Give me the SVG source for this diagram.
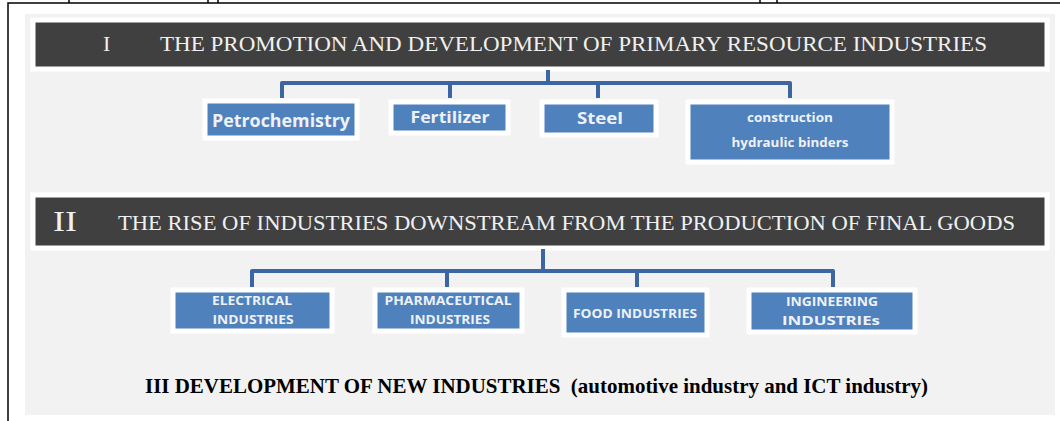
<svg xmlns="http://www.w3.org/2000/svg" width="1060" height="421" viewBox="0 0 1060 421">
<style>
.frame{stroke:#000;stroke-width:1.5;fill:none}
.band{fill:#404040;stroke:#fff;stroke-width:5}
.bt{font-family:"Liberation Serif",serif;fill:#f0f0f0}
.box{fill:#4f81bd;stroke:#fff;stroke-width:5}
.lb{font-family:"Open Sans","Liberation Sans",sans-serif;font-weight:bold;fill:#eef2f8;text-anchor:middle}
.con{stroke:#3b65a3;stroke-width:4;fill:none;stroke-linejoin:round}
</style>
<rect width="1060" height="421" fill="#fff"/>
<g id="frame">
<path class="frame" d="M8,421 V3 H1060"/>
<path class="frame" d="M69,0 V3 M208,0 V3 M218,0 V3 M760,0 V3 M777,0 V3"/>
</g>
<rect id="panel" x="25" y="14" width="1030" height="401" fill="#f2f2f2"/>
<g id="band1">
<rect class="band" x="33" y="20" width="1014" height="49"/>
<text class="bt" x="103" y="51" font-size="22">I</text>
<text class="bt" x="160" y="51" font-size="22" textLength="827" lengthAdjust="spacingAndGlyphs">THE PROMOTION AND DEVELOPMENT OF PRIMARY RESOURCE INDUSTRIES</text>
</g>
<g id="band2">
<rect class="band" x="33" y="195" width="1014" height="53"/>
<text class="bt" x="53" y="231" font-size="29" textLength="24" lengthAdjust="spacingAndGlyphs">II</text>
<text class="bt" x="118" y="230" font-size="21" textLength="897" lengthAdjust="spacingAndGlyphs">THE RISE OF INDUSTRIES DOWNSTREAM FROM THE PRODUCTION OF FINAL GOODS</text>
</g>
<g id="connectors">
<path class="con" d="M548,70 V83 M282,98 V83 H790 V98 M450,83 V98 M598,83 V98"/>
<path class="con" d="M543,249 V271 M252,287 V271 H833 V287 M447,271 V287 M637,271 V287"/>
</g>
<g id="petrochemistry">
<rect class="box" x="205" y="101" width="152" height="37"/>
<text class="lb" x="281" y="127" font-size="17.5" textLength="138" lengthAdjust="spacingAndGlyphs">Petrochemistry</text>
</g>
<g id="fertilizer">
<rect class="box" x="391" y="102" width="117" height="31"/>
<text class="lb" x="450" y="123" font-size="16.5" textLength="79" lengthAdjust="spacingAndGlyphs">Fertilizer</text>
</g>
<g id="steel">
<rect class="box" x="542" y="102" width="114" height="33"/>
<text class="lb" x="600" y="124" font-size="16.5" textLength="46" lengthAdjust="spacingAndGlyphs">Steel</text>
</g>
<g id="construction">
<rect class="box" x="688" y="102" width="204" height="60"/>
<text class="lb" x="790" y="122" font-size="12" textLength="86" lengthAdjust="spacingAndGlyphs">construction</text>
<text class="lb" x="790" y="147" font-size="12" textLength="117" lengthAdjust="spacingAndGlyphs">hydraulic binders</text>
</g>
<g id="electrical">
<rect class="box" x="173" y="290" width="159" height="41"/>
<text class="lb" x="252" y="305" font-size="12.5" textLength="80" lengthAdjust="spacingAndGlyphs">ELECTRICAL</text>
<text class="lb" x="253" y="324" font-size="12.5" textLength="81" lengthAdjust="spacingAndGlyphs">INDUSTRIES</text>
</g>
<g id="pharmaceutical">
<rect class="box" x="375" y="290" width="147" height="41"/>
<text class="lb" x="448" y="305" font-size="12.5" textLength="127" lengthAdjust="spacingAndGlyphs">PHARMACEUTICAL</text>
<text class="lb" x="450" y="324" font-size="12.5" textLength="80" lengthAdjust="spacingAndGlyphs">INDUSTRIES</text>
</g>
<g id="food">
<rect class="box" x="564" y="290" width="143" height="45"/>
<text class="lb" x="635" y="318" font-size="12.5" textLength="124" lengthAdjust="spacingAndGlyphs">FOOD INDUSTRIES</text>
</g>
<g id="engineering">
<rect class="box" x="749" y="290" width="166" height="42"/>
<text class="lb" x="832" y="306" font-size="12.5" textLength="92" lengthAdjust="spacingAndGlyphs">INGINEERING</text>
<text class="lb" x="831" y="325" font-size="12.5" textLength="98" lengthAdjust="spacingAndGlyphs">INDUSTRIEs</text>
</g>
<g id="new-industries">
<text x="145" y="393" font-family="'Liberation Serif',serif" font-weight="bold" font-size="21" textLength="783" lengthAdjust="spacingAndGlyphs" fill="#000" xml:space="preserve">III DEVELOPMENT OF NEW INDUSTRIES  (automotive industry and ICT industry)</text>
</g>
</svg>
